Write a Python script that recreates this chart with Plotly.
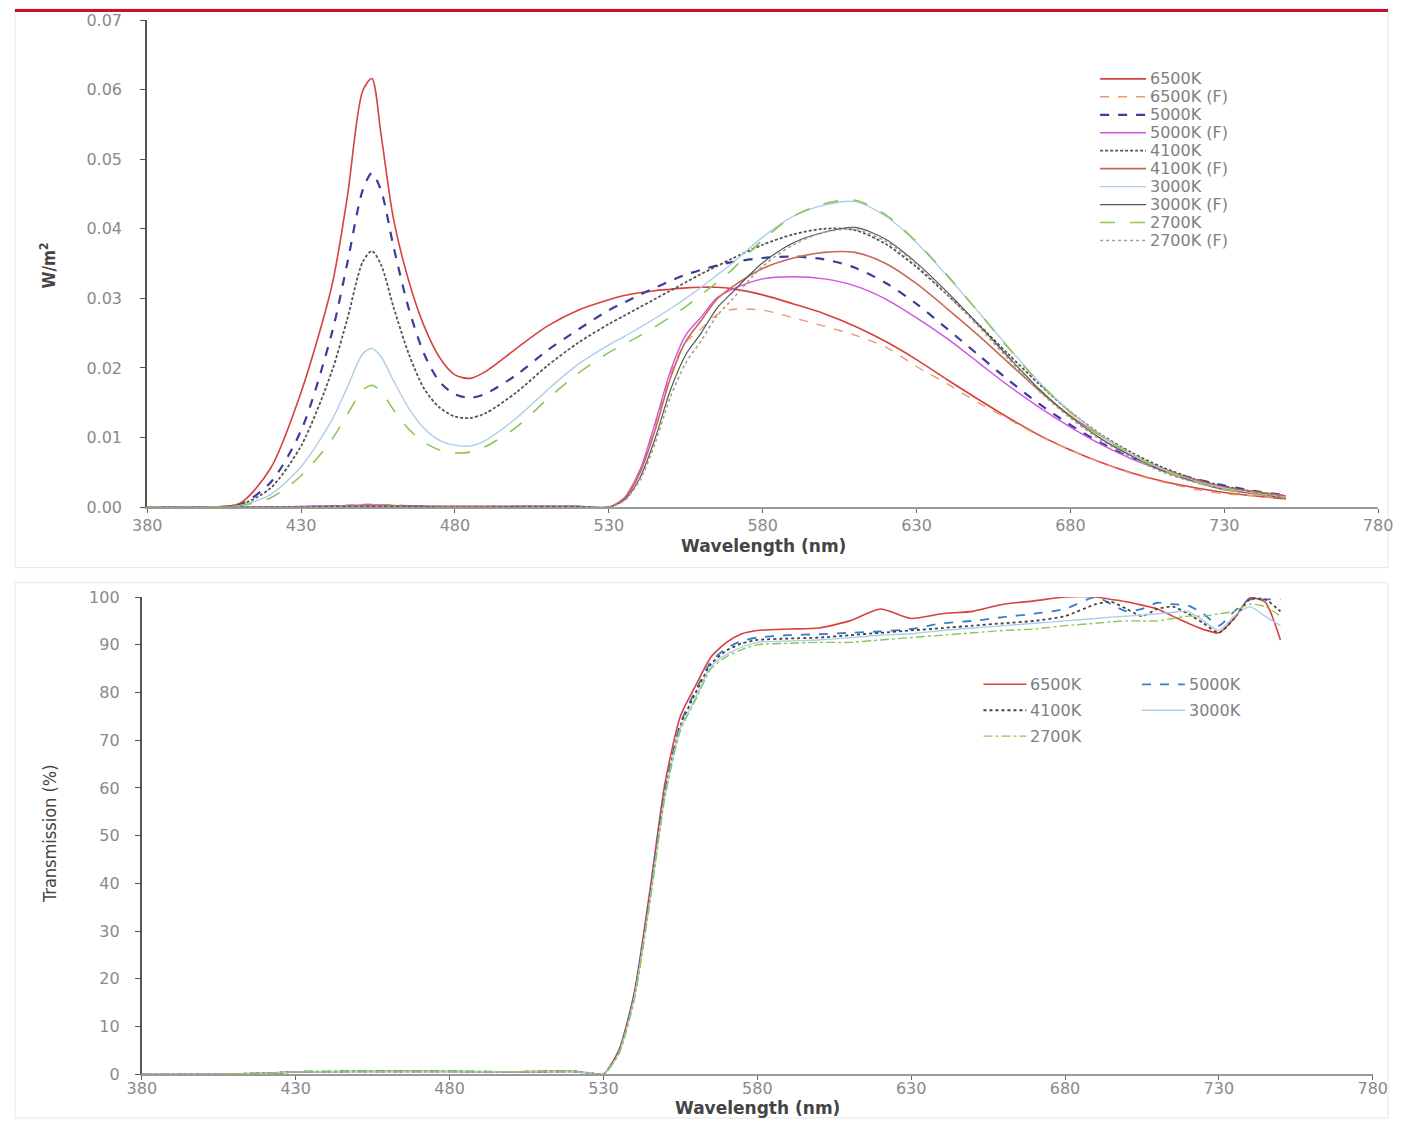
import plotly.graph_objects as go

# Spectral power distribution (W/m2) with and without the filter
wavelength = [380, 400, 410, 420, 430, 440, 445, 450, 453, 456,
              460, 465, 470, 475, 480, 485, 490, 500, 510, 520,
              530, 535, 540, 545, 550, 555, 560, 565, 570, 580,
              590, 600, 610, 620, 630, 640, 650, 660, 670, 680,
              690, 700, 710, 720, 730, 740, 750]

spd_6500 = [0, 0, 0.0005, 0.0055, 0.0165, 0.0318, 0.0445, 0.0598, 0.0616, 0.0535,
            0.0415, 0.0325, 0.026, 0.0215, 0.019, 0.0185, 0.0195, 0.0228, 0.026, 0.0283,
            0.0298, 0.0304, 0.0308, 0.0311, 0.0313, 0.0315, 0.0316, 0.0316, 0.0314, 0.0305,
            0.0292, 0.0278, 0.026, 0.0238, 0.0212, 0.0183, 0.0155, 0.0128, 0.0103, 0.0082,
            0.0064, 0.0049, 0.0037, 0.0028, 0.0021, 0.0016, 0.0012]
spd_6500_f = [0, 0, 0, 0, 0.0001, 0.0002, 0.0003, 0.0004, 0.0004, 0.0003,
              0.0003, 0.0002, 0.0002, 0.0001, 0.0001, 0.0001, 0.0001, 0.0001, 0.0001, 0.0001,
              0, 0.0014, 0.0052, 0.0118, 0.0191, 0.0237, 0.0256, 0.0276, 0.0284, 0.0283,
              0.0272, 0.026, 0.0247, 0.023, 0.0202, 0.0177, 0.015, 0.0126, 0.0102, 0.0082,
              0.0064, 0.0048, 0.0036, 0.0026, 0.0019, 0.0016, 0.0011]
spd_5000 = [0, 0, 0.0003, 0.0035, 0.011, 0.025, 0.035, 0.0455, 0.048, 0.0455,
            0.0375, 0.0285, 0.022, 0.018, 0.0162, 0.0157, 0.0163, 0.019, 0.0225, 0.0255,
            0.0283, 0.0294, 0.0305, 0.0315, 0.0325, 0.0334, 0.0341, 0.0347, 0.0352, 0.0358,
            0.036, 0.0356, 0.0344, 0.0322, 0.0292, 0.0256, 0.0219, 0.0182, 0.0148, 0.0118,
            0.0092, 0.0071, 0.0054, 0.0041, 0.0031, 0.0023, 0.0017]
spd_5000_f = [0, 0, 0, 0, 0.0001, 0.0002, 0.0002, 0.0003, 0.0003, 0.0003,
              0.0002, 0.0002, 0.0001, 0.0001, 0.0001, 0.0001, 0.0001, 0.0001, 0.0001, 0.0001,
              0, 0.0013, 0.0052, 0.012, 0.0195, 0.0247, 0.0273, 0.03, 0.0313, 0.0328,
              0.0331, 0.0328, 0.0318, 0.0299, 0.0272, 0.0242, 0.0208, 0.0174, 0.0143, 0.0115,
              0.009, 0.0069, 0.0053, 0.004, 0.0029, 0.0022, 0.0016]
spd_4100 = [0, 0, 0.0003, 0.0027, 0.0088, 0.0195, 0.027, 0.0352, 0.0368, 0.0348,
            0.0288, 0.022, 0.017, 0.0143, 0.013, 0.0128, 0.0135, 0.0165, 0.0203, 0.0236,
            0.0263, 0.0275, 0.0287, 0.0299, 0.0311, 0.0323, 0.0335, 0.0346, 0.0357, 0.0377,
            0.0392, 0.04, 0.0398, 0.0378, 0.0345, 0.0305, 0.0263, 0.0219, 0.0176, 0.0137,
            0.0104, 0.0078, 0.0057, 0.0041, 0.003, 0.0022, 0.0016]
spd_4100_f = [0, 0, 0, 0, 0, 0.0001, 0.0001, 0.0002, 0.0002, 0.0002,
              0.0002, 0.0001, 0.0001, 0.0001, 0.0001, 0.0001, 0.0001, 0.0001, 0.0001, 0.0001,
              0, 0.0012, 0.0048, 0.011, 0.0185, 0.0238, 0.0268, 0.0298, 0.0316, 0.0343,
              0.0358, 0.0366, 0.0366, 0.035, 0.0321, 0.0285, 0.0247, 0.0207, 0.0167, 0.0131,
              0.0102, 0.0076, 0.0055, 0.004, 0.0028, 0.0022, 0.0016]
spd_3000 = [0, 0, 0.0002, 0.0018, 0.0058, 0.0125, 0.0172, 0.022, 0.0228, 0.0216,
            0.0182, 0.0142, 0.0113, 0.0096, 0.0089, 0.0088, 0.0096, 0.0128, 0.0168, 0.0205,
            0.0233, 0.0245, 0.0258, 0.0271, 0.0285, 0.03, 0.0316, 0.0333, 0.035, 0.0388,
            0.0418, 0.0434, 0.0439, 0.0418, 0.038, 0.0332, 0.0281, 0.0229, 0.0179, 0.0137,
            0.0103, 0.0076, 0.0054, 0.0038, 0.0027, 0.0019, 0.0014]
spd_3000_f = [0, 0, 0, 0, 0, 0.0001, 0.0001, 0.0001, 0.0001, 0.0001,
              0.0001, 0.0001, 0.0001, 0, 0, 0, 0, 0.0001, 0.0001, 0.0001,
              0, 0.001, 0.0041, 0.0098, 0.0168, 0.0219, 0.025, 0.0285, 0.0308, 0.0351,
              0.038, 0.0395, 0.0402, 0.0385, 0.0351, 0.0309, 0.0263, 0.0215, 0.0169, 0.013,
              0.0098, 0.0073, 0.0052, 0.0037, 0.0025, 0.0019, 0.0013]
spd_2700 = [0, 0, 0.0002, 0.0013, 0.0045, 0.0097, 0.0133, 0.0168, 0.0175, 0.0166,
            0.014, 0.0112, 0.0093, 0.0082, 0.0078, 0.0079, 0.0087, 0.0115, 0.0155, 0.0192,
            0.0222, 0.0234, 0.0246, 0.0259, 0.0273, 0.0288, 0.0305, 0.0322, 0.0341, 0.0384,
            0.0418, 0.0436, 0.0441, 0.042, 0.0381, 0.0333, 0.0281, 0.0228, 0.0178, 0.0136,
            0.0102, 0.0075, 0.0053, 0.0037, 0.0026, 0.0019, 0.0014]
spd_2700_f = [0, 0, 0, 0, 0, 0.0001, 0.0001, 0.0001, 0.0001, 0.0001,
              0.0001, 0, 0, 0, 0, 0, 0, 0, 0.0001, 0.0001,
              0, 0.0009, 0.0038, 0.0091, 0.0158, 0.0207, 0.0239, 0.0274, 0.0298, 0.0346,
              0.0377, 0.0395, 0.0399, 0.0382, 0.0349, 0.0306, 0.026, 0.0212, 0.0166, 0.0128,
              0.0096, 0.0071, 0.005, 0.0036, 0.0025, 0.0019, 0.0013]

# Filter transmission (%)
trans_wl = [380, 400, 420, 430, 450, 480, 500, 520, 525, 530,
            535, 540, 545, 550, 555, 560, 565, 570, 575, 580,
            590, 600, 610, 620, 630, 640, 650, 660, 670, 680,
            690, 695, 700, 705, 710, 715, 720, 725, 730, 735,
            740, 745, 750]
trans_6500 = [0, 0, 0.2, 0.5, 0.6, 0.6, 0.5, 0.6, 0.3, 0,
              5, 17, 38, 61, 75, 81.5, 87.5, 90.5, 92.3, 93,
              93.3, 93.5, 95, 97.5, 95.5, 96.5, 97, 98.5, 99.2, 100,
              100, 99.5, 99, 98.3, 97.5, 96, 94.5, 93.2, 92.5, 95.5,
              99.8, 99, 91]
trans_5000 = [0, 0, 0.2, 0.5, 0.6, 0.6, 0.5, 0.6, 0.3, 0,
              4.8, 16.5, 37, 59.5, 73.5, 80.5, 86.5, 89.3, 90.8, 91.5,
              92, 92.2, 92.5, 92.8, 93.3, 94.5, 95, 95.8, 96.5, 97.5,
              100, 98.5, 97, 97.5, 98.8, 98.5, 98.2, 96.5, 94, 97,
              99.5, 99.5, 99.5]
trans_4100 = [0, 0, 0.2, 0.5, 0.6, 0.6, 0.5, 0.6, 0.3, 0,
              4.6, 16.3, 36.5, 59, 73, 80, 86, 88.8, 90.3, 91,
              91.3, 91.5, 92, 92.5, 93, 93.5, 94, 94.5, 95, 96,
              98.5, 99, 97.5, 96, 97.5, 98, 96.5, 94.5, 92.5, 95.5,
              99.5, 99.5, 97]
trans_3000 = [0, 0, 0.2, 0.5, 0.6, 0.6, 0.5, 0.6, 0.3, 0,
              4.4, 16, 36, 58.5, 72.5, 79, 85.5, 88, 89.5, 90.5,
              90.8, 91, 91.5, 92, 92.3, 93, 93.5, 94, 94.5, 95,
              95.5, 95.8, 96, 96.2, 96.5, 96.8, 97, 95, 93, 96,
              98, 96, 94]
trans_2700 = [0, 0, 0.2, 0.5, 0.6, 0.6, 0.5, 0.6, 0.3, 0,
              4.2, 15.5, 35.5, 58, 72, 78.5, 85, 87.5, 89, 90,
              90.3, 90.5, 90.5, 91, 91.5, 92, 92.5, 93, 93.3, 94,
              94.5, 94.8, 95, 95, 95, 95.5, 96, 96, 96.5, 97,
              98.5, 98, 96]

x_ticks = [380, 430, 480, 530, 580, 630, 680, 730, 780]

W, H = 1403, 1128


# the photographed page comes out slightly shrunk with a thin border,
# so picture pixels are mapped back to paper fractions here
def fx(px):
    return min(1, max(0, (px - 11.8) / 0.9814 / W))


def fy(py):
    return min(1, max(0, 1 - (py - 7.95) / 0.9857 / H))


fig = go.Figure()

# top chart: name, values, colour, dash, width
spd_series = [
    ("6500K", spd_6500, "#d8403e", "solid", 1.6),
    ("6500K (F)", spd_6500_f, "#eb9a6e", "dash", 1.4),
    ("5000K", spd_5000, "#3d3b9c", "dash", 2.2),
    ("5000K (F)", spd_5000_f, "#d64ee6", "solid", 1.4),
    ("4100K", spd_4100, "#555555", "3px,2px", 1.8),
    ("4100K (F)", spd_4100_f, "#c66a52", "solid", 1.6),
    ("3000K", spd_3000, "#a9cfe8", "solid", 1.4),
    ("3000K (F)", spd_3000_f, "#555555", "solid", 1.2),
    ("2700K", spd_2700, "#8ec654", "longdash", 1.6),
    ("2700K (F)", spd_2700_f, "#a89f86", "dot", 1.6),
]
for name, vals, col, dash, w in spd_series:
    fig.add_trace(go.Scatter(
        x=wavelength, y=vals, name=name, mode="lines", showlegend=False,
        line=dict(color=col, dash=dash, width=w, shape="spline", smoothing=0.8),
        xaxis="x", yaxis="y",
    ))

# bottom chart
trans_series = [
    ("6500K", trans_6500, "#d8403e", "solid", 1.6),
    ("5000K", trans_5000, "#3a7cc6", "dash", 1.8),
    ("4100K", trans_4100, "#444444", "dot", 1.8),
    ("3000K", trans_3000, "#a9cfe8", "solid", 1.4),
    ("2700K", trans_2700, "#8ec654", "dashdot", 1.4),
]
for name, vals, col, dash, w in trans_series:
    fig.add_trace(go.Scatter(
        x=trans_wl, y=vals, name=name, mode="lines", showlegend=False,
        line=dict(color=col, dash=dash, width=w, shape="spline", smoothing=0.6),
        xaxis="x2", yaxis="y2",
    ))

# legend keys drawn as short lines plus labels, packed tightly like the original
shapes = [
    dict(type="rect", xref="paper", yref="paper", x0=fx(8), x1=1, y0=fy(568), y1=fy(5),
         line=dict(color="#e8e8e8", width=1), fillcolor="rgba(0,0,0,0)", layer="below"),
    dict(type="rect", xref="paper", yref="paper", x0=fx(8), x1=1, y0=0, y1=fy(583),
         line=dict(color="#e8e8e8", width=1), fillcolor="rgba(0,0,0,0)", layer="below"),
    dict(type="rect", xref="paper", yref="paper", x0=0, x1=1, y0=1 - 3 / H, y1=1,
         line=dict(width=0), fillcolor="#c8102e", layer="below"),
]
annotations = []
key_font = dict(family="DejaVu Sans", size=16, color="#808080")


def add_key(name, col, dash, w, x_line, y_row, line_len=46):
    shapes.append(dict(type="line", xref="paper", yref="paper",
                       x0=fx(x_line), x1=fx(x_line + line_len), y0=fy(y_row), y1=fy(y_row),
                       line=dict(color=col, dash=dash, width=w)))
    annotations.append(dict(text=name, xref="paper", yref="paper", x=fx(x_line + line_len + 2),
                            y=fy(y_row), xanchor="left", yanchor="middle", showarrow=False,
                            font=key_font))


for i, (name, vals, col, dash, w) in enumerate(spd_series):
    add_key(name, col, dash, w, 1100, 78 + 18 * i)

bottom_keys = {"6500K": (983, 685), "4100K": (983, 711), "2700K": (983, 737),
               "5000K": (1142, 685), "3000K": (1142, 711)}
for name, vals, col, dash, w in trans_series:
    kx, ky = bottom_keys[name]
    add_key(name, col, dash, w, kx, ky, line_len=43)

title_font = dict(family="DejaVu Sans", size=17, color="#444444")
narrow = "Liberation Sans Narrow, DejaVu Sans Condensed, Liberation Sans, Arial"
annotations += [
    dict(text="<b>Wavelength (nm)</b>", xref="paper", yref="paper", x=fx(762), y=fy(546),
         xanchor="center", yanchor="middle", showarrow=False, font=title_font),
    dict(text="<b>Wavelength (nm)</b>", xref="paper", yref="paper", x=fx(756), y=fy(1110),
         xanchor="center", yanchor="middle", showarrow=False, font=title_font),
    dict(text="<b>W/m<sup>2</sup></b>", xref="paper", yref="paper", textangle=-90,
         x=fx(45), y=fy(265), xanchor="center", yanchor="middle", showarrow=False,
         font=dict(family=narrow, size=17, color="#444444")),
    dict(text="Transmission (%)", xref="paper", yref="paper", textangle=-90,
         x=fx(47), y=fy(835), xanchor="center", yanchor="middle", showarrow=False,
         font=dict(family=narrow, size=18, color="#444444")),
]

tick_font = dict(family="DejaVu Sans", size=16, color="#8a8a8a")
axis_common = dict(showgrid=False, zeroline=False, showline=True, ticks="outside",
                   tickfont=tick_font, mirror=False)

fig.update_layout(
    width=W, height=H,
    margin=dict(l=0, r=0, t=0, b=0),
    paper_bgcolor="white", plot_bgcolor="white",
    font=dict(family="DejaVu Sans", color="#777777"),
    showlegend=False,
    xaxis=dict(domain=[fx(144.4), fx(1378.8)], range=[380, 780], tickvals=x_ticks,
               anchor="y", linecolor="#9a9a9a", linewidth=2, tickcolor="#666666",
               ticklen=4, ticklabelstandoff=-1, **axis_common),
    yaxis=dict(domain=[fy(507.3), fy(19)], range=[0, 0.07], dtick=0.01,
               tickformat=".2f", anchor="x", linecolor="#555555", linewidth=2,
               tickcolor="#555555", ticklen=5, ticklabelstandoff=15, **axis_common),
    xaxis2=dict(domain=[fx(139), fx(1373.4)], range=[380, 780], tickvals=x_ticks,
                anchor="y2", linecolor="#9a9a9a", linewidth=2, tickcolor="#666666",
                ticklen=4, ticklabelstandoff=-5, **axis_common),
    yaxis2=dict(domain=[fy(1076), fy(597.5)], range=[0, 100], dtick=10,
                anchor="x2", linecolor="#555555", linewidth=2, tickcolor="#555555",
                ticklen=5, ticklabelstandoff=12, **axis_common),
    shapes=shapes,
    annotations=annotations,
)

# drop the page margin so the figure fills the window exactly
fig.write_html("out.html", config={"displayModeBar": False},
               post_script="document.body.style.margin='0';"
                           "document.body.style.overflow='hidden';")
